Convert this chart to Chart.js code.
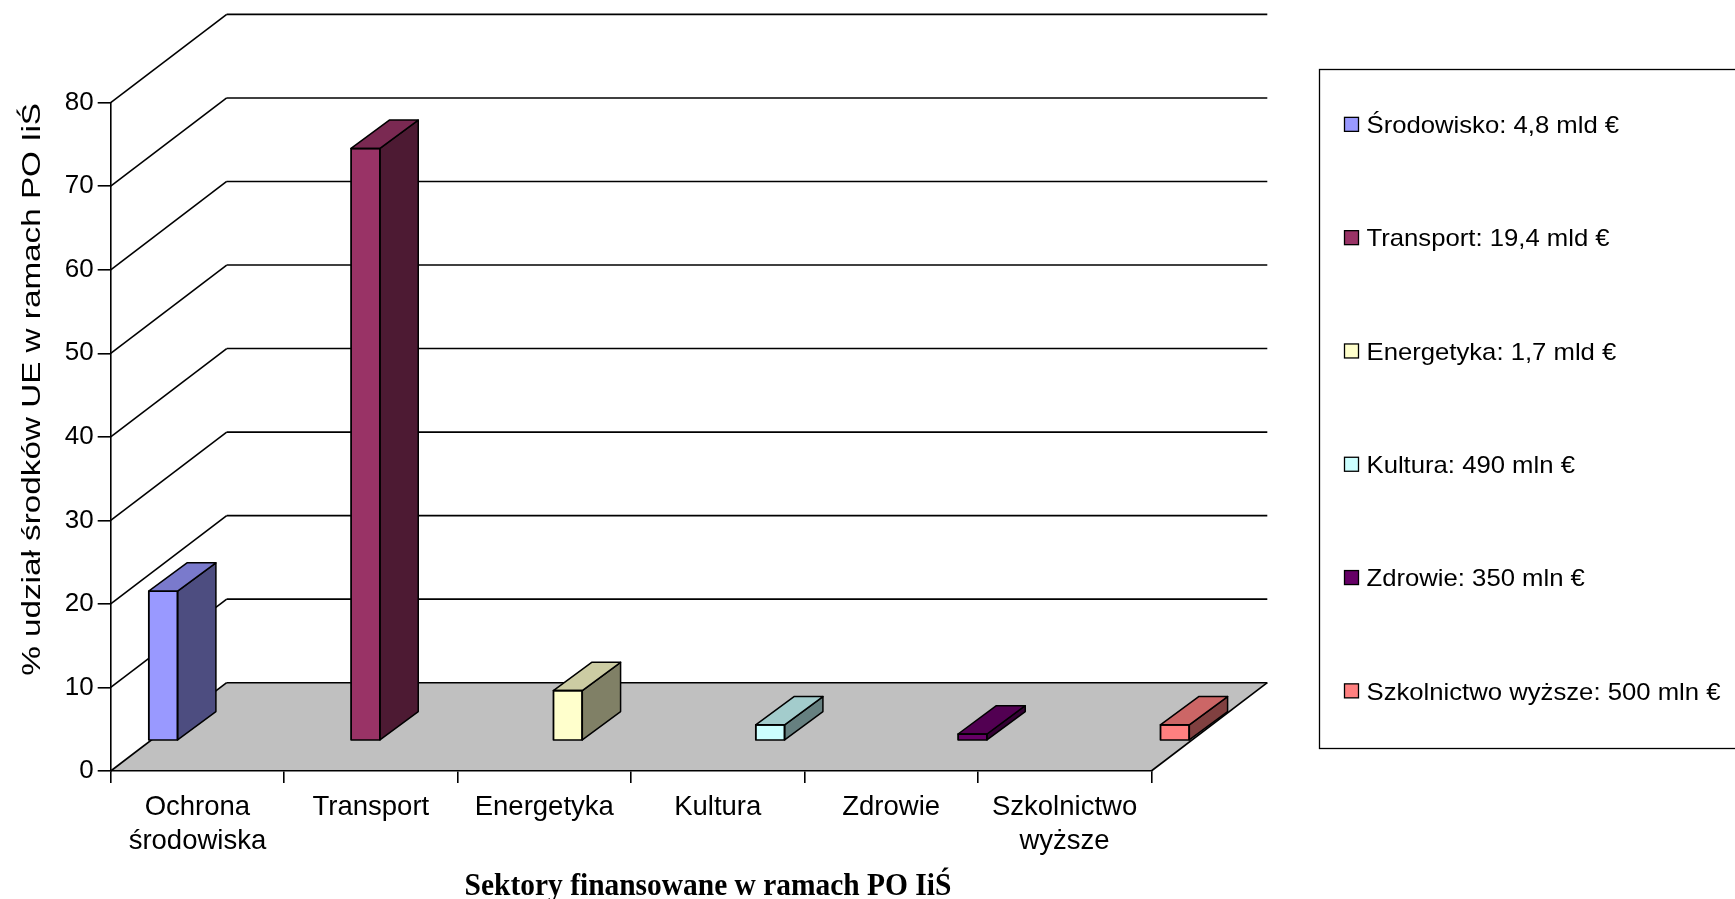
<!DOCTYPE html>
<html>
<head>
<meta charset="utf-8">
<script src="https://cdn.jsdelivr.net/npm/chart.js@4/dist/chart.umd.min.js"></script>
<style>
  html, body { margin: 0; padding: 0; background: #fff; }
  #wrap { width: 1735px; height: 899px; }
</style>
</head>
<body>
<div id="wrap"><canvas id="c" width="1735" height="899"></canvas></div>
<script>
// ---- data ----
const categories = [['Ochrona', 'środowiska'], 'Transport', 'Energetyka', 'Kultura', 'Zdrowie', ['Szkolnictwo', 'wyższe']];
const seriesLabels = ['Środowisko: 4,8 mld €', 'Transport: 19,4 mld €', 'Energetyka: 1,7 mld €', 'Kultura: 490 mln €', 'Zdrowie: 350 mln €', 'Szkolnictwo wyższe: 500 mln €'];
const shareValues = [17.9, 70.9, 6.0, 1.9, 0.8, 1.9];
const yTickMin = 0, yTickMax = 80, yTickStep = 10;
const yTitle = '% udział środków UE w ramach PO IiŚ';
const xTitle = 'Sektory finansowane w ramach PO IiŚ';

// ---- styles ----
const frontColors = ['#9999ff', '#993366', '#ffffcc', '#ccffff', '#660066', '#ff8080'];
const geo = {
  floorDx: 116, floorDy: -88.3,
  barOx: 38, barOy: -30.3,
  barDx: 38.3, barDy: -28.3,
  lineW: 1.6,
  legendBox: { x: 1319.5, y: 69.5, w: 500, h: 679 },
  legendSwatchX: 1344.5, legendTextX: 1366.5, legendFirstBaseline: 133, legendStep: 113.3,
  legendFont: 24, legendStretch: 1.07,
  xTitleX: 708, xTitleY: 895, yTitleX: 40, yTitleY: 389.4,
  yTitleFont: 25, yTitleStretch: 1.33
};

function shade(hex, f) {
  const n = parseInt(hex.slice(1), 16);
  const r = Math.round(((n >> 16) & 255) * f), g = Math.round(((n >> 8) & 255) * f), b = Math.round((n & 255) * f);
  return 'rgb(' + r + ',' + g + ',' + b + ')';
}

const datasets = seriesLabels.map((lab, i) => ({
  label: lab,
  data: categories.map((_, j) => (j === i ? shareValues[i] : null)),
  backgroundColor: frontColors[i],
  borderColor: '#000',
  borderWidth: 1.5,
  inflateAmount: 0.6,
  categoryPercentage: 1.0,
  barPercentage: 1.0
}));

const line = (ctx, x1, y1, x2, y2) => { ctx.beginPath(); ctx.moveTo(x1, y1); ctx.lineTo(x2, y2); ctx.stroke(); };

const box3d = {
  id: 'box3d',
  beforeDraw(chart) {
    const { ctx, chartArea: a, scales: { y } } = chart;
    ctx.save();
    ctx.fillStyle = '#fff';
    ctx.fillRect(0, 0, chart.width, chart.height);
    const y0 = y.getPixelForValue(0);
    const fdx = geo.floorDx, fdy = geo.floorDy;
    ctx.beginPath();
    ctx.moveTo(a.left, y0); ctx.lineTo(a.right, y0);
    ctx.lineTo(a.right + fdx, y0 + fdy); ctx.lineTo(a.left + fdx, y0 + fdy);
    ctx.closePath();
    ctx.fillStyle = '#c0c0c0';
    ctx.fill();
    ctx.strokeStyle = '#000';
    ctx.lineWidth = geo.lineW;
    line(ctx, a.right, y0, a.right + fdx, y0 + fdy);
    y.ticks.forEach(t => {
      const py = y.getPixelForValue(t.value);
      line(ctx, a.left, py, a.left + fdx, py + fdy);
      line(ctx, a.left + fdx, py + fdy, a.right + fdx, py + fdy);
    });
    ctx.restore();
  },
  beforeDatasetsDraw(chart) {
    chart.ctx.save();
    chart.ctx.translate(geo.barOx, geo.barOy);
  },
  afterDatasetsDraw(chart) {
    const ctx = chart.ctx;
    ctx.restore();
    ctx.save();
    ctx.strokeStyle = '#000';
    ctx.lineWidth = 1.5;
    ctx.lineJoin = 'round';
    chart.data.datasets.forEach((ds, i) => {
      const meta = chart.getDatasetMeta(i);
      meta.data.forEach((el, j) => {
        if (ds.data[j] == null) return;
        const L = el.x - el.width / 2 + geo.barOx, R = el.x + el.width / 2 + geo.barOx;
        const T = el.y + geo.barOy, B = el.base + geo.barOy;
        const dx = geo.barDx, dy = geo.barDy;
        // side face
        ctx.beginPath();
        ctx.moveTo(R, T); ctx.lineTo(R + dx, T + dy); ctx.lineTo(R + dx, B + dy); ctx.lineTo(R, B); ctx.closePath();
        ctx.fillStyle = shade(ds.backgroundColor, 0.5); ctx.fill(); ctx.stroke();
        // top face
        ctx.beginPath();
        ctx.moveTo(L, T); ctx.lineTo(L + dx, T + dy); ctx.lineTo(R + dx, T + dy); ctx.lineTo(R, T); ctx.closePath();
        ctx.fillStyle = shade(ds.backgroundColor, 0.8); ctx.fill(); ctx.stroke();
        // front outline
        ctx.strokeRect(L, T, R - L, B - T);
      });
    });
    ctx.restore();
  },
  afterDraw(chart) {
    const ctx = chart.ctx;
    ctx.save();
    // legend
    ctx.strokeStyle = '#000';
    ctx.lineWidth = 1.3;
    const lb = geo.legendBox;
    ctx.strokeRect(lb.x, lb.y, lb.w, lb.h);
    chart.data.datasets.forEach((ds, i) => {
      const base = geo.legendFirstBaseline + i * geo.legendStep;
      const cy = base - geo.legendFont * 0.36;
      ctx.fillStyle = ds.backgroundColor;
      ctx.fillRect(geo.legendSwatchX, cy - 7, 14, 14);
      ctx.lineWidth = 1.3;
      ctx.strokeRect(geo.legendSwatchX, cy - 7, 14, 14);
      ctx.save();
      ctx.translate(geo.legendTextX, base);
      ctx.scale(geo.legendStretch, 1);
      ctx.font = geo.legendFont + 'px "Liberation Sans", Arial, sans-serif';
      ctx.fillStyle = '#000';
      ctx.textAlign = 'left';
      ctx.textBaseline = 'alphabetic';
      ctx.fillText(ds.label, 0, 0);
      ctx.restore();
    });
    // x axis title
    ctx.save();
    ctx.translate(geo.xTitleX, geo.xTitleY);
    ctx.scale(0.95, 1);
    ctx.font = 'bold 31px "Liberation Serif", "Times New Roman", serif';
    ctx.fillStyle = '#000';
    ctx.textAlign = 'center';
    ctx.textBaseline = 'alphabetic';
    ctx.fillText(xTitle, 0, 0);
    ctx.restore();
    // y axis title
    ctx.save();
    ctx.translate(geo.yTitleX, geo.yTitleY);
    ctx.rotate(-Math.PI / 2);
    ctx.scale(geo.yTitleStretch, 1);
    ctx.font = geo.yTitleFont + 'px "Liberation Sans", Arial, sans-serif';
    ctx.fillStyle = '#000';
    ctx.textAlign = 'center';
    ctx.textBaseline = 'alphabetic';
    ctx.fillText(yTitle, 0, 0);
    ctx.restore();
    ctx.restore();
  }
};

new Chart(document.getElementById('c'), {
  type: 'bar',
  data: { labels: categories, datasets },
  plugins: [box3d],
  options: {
    responsive: false,
    animation: false,
    devicePixelRatio: 1,
    layout: { padding: { left: 0, top: 102.7, right: 1735 - 1151.3, bottom: 0 } },
    plugins: { legend: { display: false }, tooltip: { enabled: false }, title: { display: false } },
    scales: {
      x: {
        type: 'category',
        offset: true,
        grid: { display: true, offset: true, drawOnChartArea: false, drawTicks: true, tickLength: 12, color: '#000', lineWidth: 1.6 },
        border: { display: true, color: '#000', width: 1.6 },
        ticks: { color: '#000', font: { family: '"Liberation Sans", Arial, sans-serif', size: 27.5, lineHeight: 1.24 }, padding: 7, maxRotation: 0, minRotation: 0, autoSkip: false },
        afterFit(s) { s.height = 899 - 771; }
      },
      y: {
        min: yTickMin, max: yTickMax,
        grid: { display: true, drawOnChartArea: false, drawTicks: true, tickLength: 13, color: '#000', lineWidth: 1.6 },
        border: { display: true, color: '#000', width: 1.6 },
        ticks: { stepSize: yTickStep, color: '#000', font: { family: '"Liberation Sans", Arial, sans-serif', size: 26 }, padding: 4 },
        afterFit(s) { s.width = 110.7; }
      }
    }
  }
});
</script>
</body>
</html>
